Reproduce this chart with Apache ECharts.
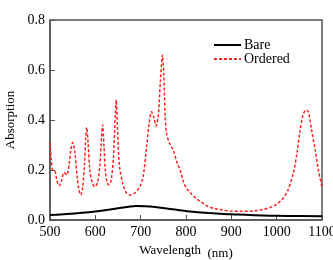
<!DOCTYPE html>
<html><head><meta charset="utf-8">
<script src="https://cdn.jsdelivr.net/npm/echarts@6/dist/echarts.min.js"></script>
<style>html,body{margin:0;padding:0;background:#fff}#c{width:333px;height:260px}</style>
</head><body><div id="c"></div>
<script>
var xTicks = [500, 600, 700, 800, 900, 1000, 1100];
var yTicks = [0.0, 0.2, 0.4, 0.6, 0.8];
var bareX = [500, 530, 560, 600, 640, 670, 690, 710, 740, 770, 800, 850, 900, 950, 1000, 1050, 1100];
var bareY = [0.020, 0.023, 0.027, 0.034, 0.044, 0.052, 0.056, 0.055, 0.050, 0.043, 0.036, 0.028, 0.023, 0.019, 0.017, 0.016, 0.015];
var orderedX = [500, 503, 506, 511, 515, 520, 525, 531, 537, 542, 546, 550, 555, 560, 564, 568, 572, 576, 579, 581, 584, 588, 593, 599, 605, 610, 614, 616, 619, 622, 626, 630, 635, 640, 644, 646, 649, 653, 660, 668, 676, 685, 693, 700, 706, 713, 719, 724, 729, 734, 739, 743, 748, 751, 754, 757, 763, 772, 780, 787, 795, 801, 809, 820, 831, 845, 860, 880, 897, 920, 948, 970, 985, 1000, 1014, 1025, 1037, 1045, 1051, 1058, 1065, 1070, 1077, 1085, 1092, 1100];
var orderedY = [0.31, 0.24, 0.20, 0.195, 0.16, 0.137, 0.155, 0.19, 0.18, 0.22, 0.28, 0.31, 0.27, 0.17, 0.12, 0.10, 0.13, 0.22, 0.33, 0.37, 0.31, 0.20, 0.15, 0.133, 0.15, 0.22, 0.34, 0.38, 0.30, 0.20, 0.15, 0.14, 0.16, 0.25, 0.42, 0.48, 0.36, 0.22, 0.15, 0.11, 0.10, 0.105, 0.12, 0.14, 0.18, 0.29, 0.39, 0.433, 0.41, 0.376, 0.42, 0.54, 0.66, 0.58, 0.42, 0.347, 0.31, 0.28, 0.23, 0.20, 0.15, 0.128, 0.11, 0.09, 0.075, 0.058, 0.047, 0.04, 0.036, 0.035, 0.036, 0.042, 0.05, 0.063, 0.087, 0.12, 0.19, 0.27, 0.35, 0.42, 0.44, 0.433, 0.36, 0.28, 0.20, 0.13];

function zip(a, b) { return a.map(function (v, i) { return [v, b[i]]; }); }
var font = 'Liberation Serif';
var axisCol = '#555';
var lbl = { v: { fontFamily: font, fontSize: 14, color: '#000' } };
var chart = echarts.init(document.getElementById('c'));
chart.setOption({
  animation: false,
  textStyle: { fontFamily: font },
  grid: { left: 50, right: 11, top: 20, bottom: 40, show: true, borderColor: axisCol, borderWidth: 1.5, backgroundColor: 'transparent',
    outerBoundsMode: 'none', containLabel: false },
  legend: {
    orient: 'vertical', left: 208, top: 33, itemWidth: 27, itemHeight: 10, itemGap: 0,
    itemStyle: { opacity: 0 },
    textStyle: { fontFamily: font, fontSize: 14, color: '#000', padding: [0, 0, 0, -2] },
    data: ['Bare', 'Ordered']
  },
  xAxis: {
    type: 'value', min: xTicks[0], max: xTicks[xTicks.length - 1], interval: 100,
    name: '{a|Wavelength}  {b|(nm)}', nameLocation: 'middle', nameGap: 22,
    nameTextStyle: { fontFamily: font, fontSize: 13, color: '#000',
      rich: { a: { fontFamily: font, fontSize: 13, color: '#000' }, b: { fontFamily: font, fontSize: 13, color: '#000', padding: [5, 0, 0, 0] } } },
    axisLine: { lineStyle: { color: axisCol, width: 1.5 } },
    axisTick: { inside: true, length: 5, lineStyle: { color: axisCol } },
    axisLabel: { fontFamily: font, fontSize: 14, color: '#000', margin: 5, rich: lbl, hideOverlap: false,
      formatter: function (v) { return '{v|' + v + '}'; } },
    splitLine: { show: false }
  },
  yAxis: {
    type: 'value', min: yTicks[0], max: yTicks[yTicks.length - 1], interval: 0.2,
    name: 'Absorption', nameLocation: 'middle', nameGap: 33,
    nameTextStyle: { fontFamily: font, fontSize: 13, color: '#000' },
    axisLine: { lineStyle: { color: axisCol, width: 1.5 } },
    axisTick: { inside: true, length: 5, lineStyle: { color: axisCol } },
    axisLabel: { fontFamily: font, fontSize: 14, color: '#000', margin: 5, rich: lbl,
      formatter: function (v) { return '{v|' + v.toFixed(1) + '}'; } },
    splitLine: { show: false }
  },
  series: [
    { name: 'Bare', type: 'line', data: zip(bareX, bareY), smooth: true, symbol: 'none',
      lineStyle: { color: '#000', width: 2 }, itemStyle: { color: '#000' } },
    { name: 'Ordered', type: 'line', data: zip(orderedX, orderedY), smooth: 0.3, symbol: 'none',
      lineStyle: { color: '#ff2020', width: 1.5, type: [3, 2] }, itemStyle: { color: '#ff2020' } }
  ]
});
</script></body></html>
